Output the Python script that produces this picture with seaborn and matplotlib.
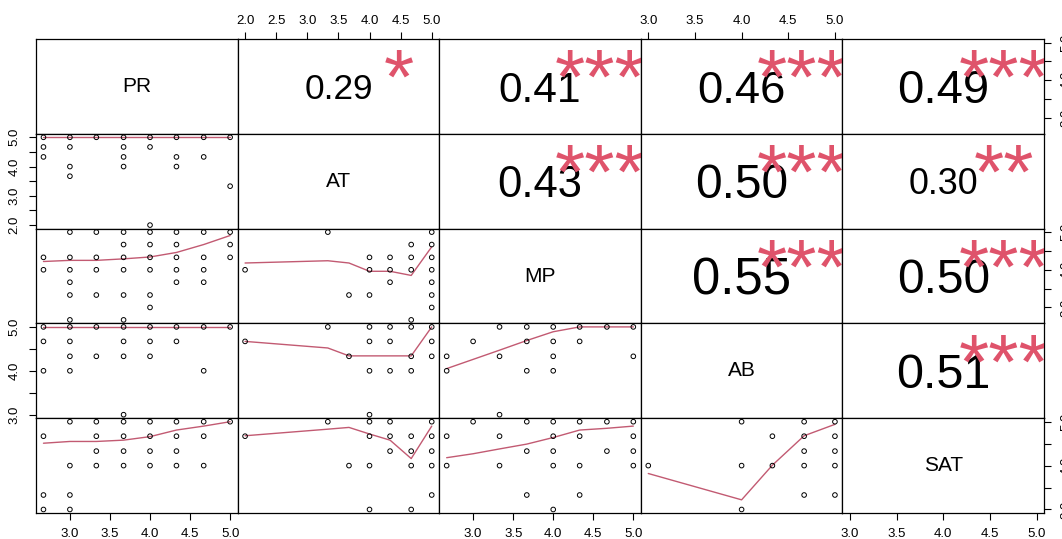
import matplotlib
matplotlib.use("Agg")
import matplotlib.pyplot as plt
import seaborn as sns

names = ["PR", "AT", "MP", "AB", "SAT"]
lows = [2.67, 2.0, 2.67, 3.0, 3.0]
highs = [5.0, 5.0, 5.0, 5.0, 5.0]

# upper panels: correlation and significance stars
cor_rows = [0, 0, 0, 0, 1, 1, 1, 2, 2, 3]
cor_cols = [1, 2, 3, 4, 2, 3, 4, 3, 4, 4]
cor_vals = [0.29, 0.41, 0.46, 0.49, 0.43, 0.50, 0.30, 0.55, 0.50, 0.51]
cor_stars = ["*", "***", "***", "***", "***", "***", "**", "***", "***", "***"]

# lower panels: x value -> y values drawn at that x
pts_AT_PR = {2.67: [5, 4.67, 4.33], 3.0: [5, 4.67, 4.0, 3.67], 3.33: [5],
             3.67: [5, 4.67, 4.33, 4.0], 4.0: [5, 4.67, 2.0], 4.33: [5, 4.33, 4.0],
             4.67: [5, 4.33], 5.0: [5, 3.33]}
pts_MP_PR = {2.67: [4.33, 4.0], 3.0: [5, 4.33, 4.0, 3.67, 3.33, 2.67], 3.33: [5, 4.33, 4.0, 3.33],
             3.67: [5, 4.67, 4.33, 4.0, 3.33, 2.67], 4.0: [5, 4.67, 4.33, 4.0, 3.33, 3.0],
             4.33: [5, 4.67, 4.33, 4.0, 3.67], 4.67: [5, 4.33, 4.0, 3.67], 5.0: [5, 4.67, 4.33]}
pts_MP_AT = {2.0: [4.0], 3.33: [5], 3.67: [3.33], 4.0: [4.33, 4.0, 3.33], 4.33: [4.33, 4.0, 3.67],
             4.67: [4.67, 4.33, 4.0, 2.67], 5.0: [5, 4.67, 4.33, 4.0, 3.67, 3.33, 3.0]}
pts_AB_PR = {2.67: [5, 4.67, 4.0], 3.0: [5, 4.67, 4.33, 4.0], 3.33: [5, 4.33],
             3.67: [5, 4.67, 4.33, 3.0], 4.0: [5, 4.67, 4.33], 4.33: [5, 4.67],
             4.67: [5, 4.0], 5.0: [5]}
pts_AB_AT = {2.0: [4.67], 3.33: [5], 3.67: [4.33], 4.0: [5, 4.67, 4.0, 3.0], 4.33: [5, 4.67, 4.0],
             4.67: [5, 4.33, 4.0], 5.0: [5, 4.67, 4.33]}
pts_AB_MP = {2.67: [4.33, 4.0], 3.0: [4.67], 3.33: [5, 4.33, 3.0], 3.67: [5, 4.67, 4.0],
             4.0: [5, 4.67, 4.33, 4.0], 4.33: [5, 4.67], 4.67: [5], 5.0: [5, 4.33]}
pts_SAT_PR = {2.67: [4.67, 3.33, 3.0], 3.0: [5, 4.0, 3.33, 3.0], 3.33: [5, 4.67, 4.33, 4.0],
              3.67: [5, 4.67, 4.33, 4.0], 4.0: [5, 4.67, 4.33, 4.0], 4.33: [5, 4.67, 4.33, 4.0],
              4.67: [5, 4.67, 4.0], 5.0: [5]}
pts_SAT_AT = {2.0: [4.67], 3.33: [5], 3.67: [4.0], 4.0: [5, 4.67, 4.0, 3.0], 4.33: [5, 4.67, 4.33],
              4.67: [4.67, 4.33, 4.0, 3.0], 5.0: [5, 4.67, 4.33, 4.0, 3.33]}
pts_SAT_MP = {2.67: [4.67, 4.0], 3.0: [5], 3.33: [4.67, 4.0], 3.67: [5, 4.33, 3.33],
              4.0: [5, 4.67, 4.33, 4.0, 3.0], 4.33: [5, 4.67, 4.0, 3.33], 4.67: [5, 4.33],
              5.0: [5, 4.67, 4.33, 4.0]}
pts_SAT_AB = {3.0: [4.0], 4.0: [5, 4.0, 3.0], 4.33: [4.67, 4.0],
              4.67: [5, 4.67, 4.33, 4.0, 3.33], 5.0: [5, 4.67, 4.33, 4.0, 3.33]}

# smoothed lines
sm_AT_PR = ([2.67, 3.0, 3.67, 4.33, 5.0], [5, 5, 5, 5, 5])
sm_MP_PR = ([2.67, 3.0, 3.33, 3.67, 4.0, 4.33, 4.67, 5.0], [4.22, 4.25, 4.25, 4.29, 4.34, 4.46, 4.67, 4.91])
sm_MP_AT = ([2.0, 3.33, 3.67, 4.0, 4.33, 4.67, 5.0], [4.18, 4.24, 4.18, 3.96, 3.96, 3.85, 4.61])
sm_AB_PR = ([2.67, 3.0, 3.67, 4.33, 5.0], [5, 5, 5, 5, 5])
sm_AB_AT = ([2.0, 3.33, 3.67, 4.0, 4.33, 4.67, 5.0], [4.67, 4.52, 4.34, 4.34, 4.34, 4.34, 5.0])
sm_AB_MP = ([2.67, 3.0, 3.33, 3.67, 4.0, 4.33, 4.67, 5.0], [4.05, 4.26, 4.47, 4.69, 4.89, 5.0, 5.0, 5.0])
sm_SAT_PR = ([2.67, 3.0, 3.33, 3.67, 4.0, 4.33, 4.67, 5.0], [4.51, 4.55, 4.55, 4.58, 4.66, 4.81, 4.90, 5.0])
sm_SAT_AT = ([2.0, 3.33, 3.67, 4.0, 4.33, 4.67, 5.0], [4.68, 4.83, 4.87, 4.72, 4.58, 4.16, 4.90])
sm_SAT_MP = ([2.67, 3.0, 3.33, 3.67, 4.0, 4.33, 4.67, 5.0], [4.18, 4.27, 4.38, 4.49, 4.64, 4.81, 4.85, 4.90])
sm_SAT_AB = ([3.0, 4.0, 4.33, 4.67, 5.0], [3.82, 3.22, 4.01, 4.68, 4.94])

lower = {
    (1, 0): (pts_AT_PR, sm_AT_PR),
    (2, 0): (pts_MP_PR, sm_MP_PR),
    (2, 1): (pts_MP_AT, sm_MP_AT),
    (3, 0): (pts_AB_PR, sm_AB_PR),
    (3, 1): (pts_AB_AT, sm_AB_AT),
    (3, 2): (pts_AB_MP, sm_AB_MP),
    (4, 0): (pts_SAT_PR, sm_SAT_PR),
    (4, 1): (pts_SAT_AT, sm_SAT_AT),
    (4, 2): (pts_SAT_MP, sm_SAT_MP),
    (4, 3): (pts_SAT_AB, sm_SAT_AB),
}

sns.set_theme(style="white")
plt.rcParams["font.family"] = ["Liberation Sans", "DejaVu Sans"]

STAR_RED = "#DF536B"
SMOOTH = "#C25A72"
BASE = 56  # font size for cex = 0.8 / strwidth
PANEL_H = 94.8  # panel height in px


def lims(k):
    pad = 0.04 * (highs[k] - lows[k])
    return lows[k] - pad, highs[k] + pad


def ticks(k):
    t = []
    v = 2.0 if lows[k] < 2.5 else 3.0
    while v <= highs[k] + 1e-9:
        t.append(v)
        v += 0.5
    return t


fig = plt.figure(figsize=(10.62, 5.39), dpi=100)
axes = fig.subplots(5, 5, gridspec_kw=dict(left=36 / 1062, right=1044 / 1062,
                                           top=1 - 39 / 539, bottom=1 - 513 / 539,
                                           wspace=0, hspace=0))

n = len(names)
for i in range(n):
    for j in range(n):
        ax = axes[i, j]
        ax.set_xlim(*lims(j))
        ax.set_ylim(*lims(i))
        ax.set_xticks([])
        ax.set_yticks([])
        for s in ax.spines.values():
            s.set_color("black")
            s.set_linewidth(0.9)
            s.set_visible(True)

        if i == j:
            ax.text(0.5, 0.5, names[i], transform=ax.transAxes, ha="center",
                    va="center", fontsize=15, color="black")
        elif (i, j) in lower:
            pts, sm = lower[(i, j)]
            xs = [x for x, ys in pts.items() for _ in ys]
            ys = [y for _, yl in pts.items() for y in yl]
            sns.scatterplot(x=xs, y=ys, ax=ax, marker="o", s=11, fc="none",
                            ec="black", linewidth=0.7, zorder=3)
            sns.lineplot(x=sm[0], y=sm[1], ax=ax, color=SMOOTH, lw=1.0,
                         estimator=None, sort=False, zorder=2)
            ax.set_xlim(*lims(j))
            ax.set_ylim(*lims(i))
            ax.set_xlabel("")
            ax.set_ylabel("")

        # outer axes, alternating like pairs()
        tick_kw = dict(length=5, width=0.8, color="black", labelsize=9.5,
                       labelcolor="black")
        if i == 0 and j % 2 == 1:
            t = ticks(j)
            ax.set_xticks(t)
            ax.set_xticklabels([f"{v:.1f}" for v in t])
            ax.xaxis.tick_top()
            ax.tick_params(axis="x", top=True, bottom=False, labeltop=True,
                           labelbottom=False, pad=4, **tick_kw)
        if i == n - 1 and j % 2 == 0:
            t = ticks(j)
            ax.set_xticks(t)
            ax.set_xticklabels([f"{v:.1f}" for v in t])
            ax.tick_params(axis="x", bottom=True, labelbottom=True, pad=6, **tick_kw)
        if j == 0 and i % 2 == 1:
            t = ticks(i)
            ax.set_yticks(t)
            ax.set_yticklabels([f"{v:.1f}" if v == int(v) else "" for v in t],
                               rotation=90, va="center")
            ax.tick_params(axis="y", left=True, labelleft=True, pad=6, **tick_kw)
        if j == n - 1 and i % 2 == 0:
            t = ticks(i)
            ax.set_yticks(t)
            ax.set_yticklabels([f"{v:.1f}" if v == int(v) else "" for v in t],
                               rotation=90, va="center")
            ax.yaxis.tick_right()
            ax.tick_params(axis="y", right=True, left=False, labelright=True,
                           labelleft=False, pad=7, **tick_kw)

for r, c, val, st in zip(cor_rows, cor_cols, cor_vals, cor_stars):
    ax = axes[r, c]
    fs = BASE * (abs(val) + 0.3) / 1.3
    # put the middle of the digits on the panel centre
    y_base = 0.5 - 0.358 * fs * 100 / 72 / PANEL_H
    ax.text(0.5, y_base, f"{val:.2f}", transform=ax.transAxes, ha="center",
            va="baseline", fontsize=fs, color="black")
    # asterisk glyph sits around 0.59 em above the baseline
    y_star = 0.8 - 0.59 * BASE * 100 / 72 / PANEL_H
    ax.text(0.8, y_star, st, transform=ax.transAxes, ha="center", va="baseline",
            fontsize=BASE, color=STAR_RED, clip_on=True)

fig.savefig("out.png", dpi=100)
